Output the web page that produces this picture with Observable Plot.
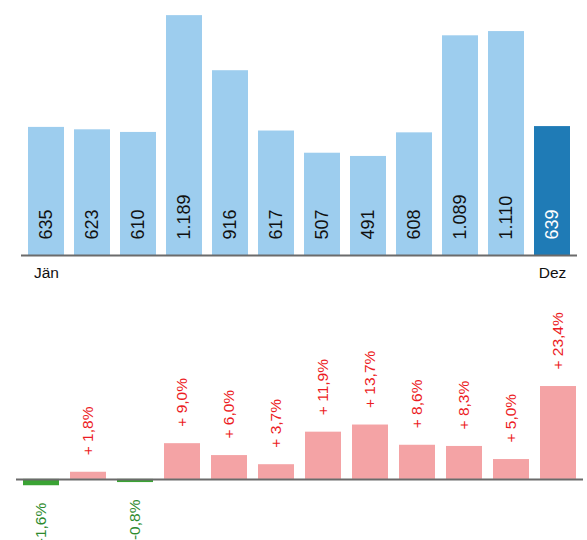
<!DOCTYPE html>
<html>
<head>
<meta charset="utf-8">
<script src="https://cdn.jsdelivr.net/npm/d3@7"></script>
<script src="https://cdn.jsdelivr.net/npm/@observablehq/plot@0.6"></script>
<style>
  html, body { margin: 0; padding: 0; background: #fff; }
  #chart svg { display: block; }
</style>
</head>
<body>
<div id="chart"></div>
<script>
const months = ["Jän","Feb","Mär","Apr","Mai","Jun","Jul","Aug","Sep","Okt","Nov","Dez"];
const counts = [635, 623, 610, 1189, 916, 617, 507, 491, 608, 1089, 1110, 639];
const changes = [-1.6, 1.8, -0.8, 9.0, 6.0, 3.7, 11.9, 13.7, 8.6, 8.3, 5.0, 23.4];
const highlightMonth = "Dez";

const de = d3.formatLocale({decimal: ",", thousands: ".", grouping: [3], currency: ["", " €"], minus: "-"});
const fmtInt = de.format(",");
const fmtPct = de.format(".1f");
const pctLabel = v => (v > 0 ? "+ " + fmtPct(v) : fmtPct(v)) + "%";

const topData = months.map((m, i) => ({m, v: counts[i]}));
const botData = months.map((m, i) => ({m, v: changes[i]}));

const font = "'Liberation Sans', Arial, sans-serif";
const lightBlue = "#9dcdee", darkBlue = "#1f7bb6";
const pink = "#f4a3a5", greenBar = "#3aa334";
const redText = "#ec1c24", greenText = "#2e8b2e";
const axisGray = "#6b6b6b";

const topChart = Plot.plot({
  width: 587, height: 290,
  marginTop: 0, marginBottom: 35, marginLeft: 21, marginRight: 10,
  style: {fontFamily: font, background: "#fff"},
  x: {domain: months, paddingInner: 0.222, paddingOuter: 0.108},
  y: {domain: [0, 1264], axis: null},
  marks: [
    Plot.barY(topData, {x: "m", y: "v", fill: d => d.m === highlightMonth ? darkBlue : lightBlue}),
    Plot.ruleY([0], {stroke: axisGray, strokeWidth: 2}),
    Plot.text(topData, {
      x: "m", y: () => 0, text: d => fmtInt(d.v), rotate: -90, textAnchor: "start",
      dy: -16, fontSize: 18, fill: d => d.m === highlightMonth ? "#fff" : "#111"
    }),
    Plot.axisX({ticks: [months[0], months[months.length - 1]], tickSize: 0, tickPadding: 11, fontSize: 15.5, fill: "#111", label: null})
  ]
});

const bottomChart = Plot.plot({
  width: 587, height: 250,
  marginTop: 0, marginBottom: 0, marginLeft: 16, marginRight: 4,
  style: {fontFamily: font, background: "#fff"},
  x: {domain: months, paddingInner: 0.239, paddingOuter: 0.106, axis: null},
  y: {domain: [-15.4, 47.6], axis: null},
  marks: [
    Plot.barY(botData, {x: "m", y: "v", fill: d => d.v >= 0 ? pink : greenBar}),
    Plot.ruleY([0], {stroke: axisGray, strokeWidth: 2}),
    Plot.text(botData.filter(d => d.v >= 0), {
      x: "m", y: "v", text: d => pctLabel(d.v), rotate: -90, textAnchor: "start",
      dy: -17, fontSize: 15.5, fill: redText
    }),
    Plot.text(botData.filter(d => d.v < 0), {
      x: "m", y: "v", text: d => pctLabel(d.v), rotate: -90, textAnchor: "end",
      dy: 17, fontSize: 15.5, fill: greenText
    })
  ]
});

document.getElementById("chart").append(topChart, bottomChart);
</script>
</body>
</html>
